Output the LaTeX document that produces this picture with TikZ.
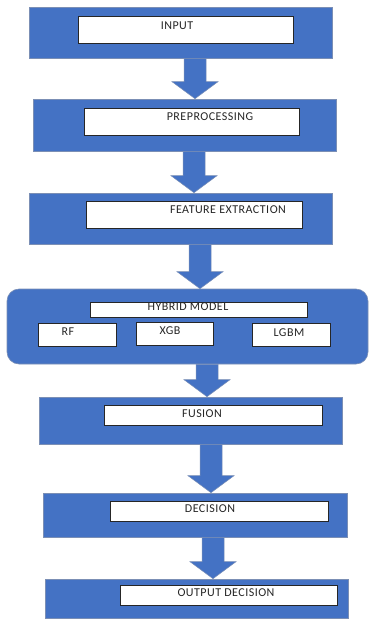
\documentclass[tikz,border=0pt]{standalone}
\usepackage{fontspec}
\setmainfont{Carlito}[LetterSpace=4]
\usetikzlibrary{calc}

\definecolor{boxblue}{HTML}{4472C4}
\definecolor{edgeblue}{HTML}{7B8FB5}
\definecolor{txtgray}{HTML}{262626}

% block arrow from the bottom of one stage to the top of the next
\newcommand{\bigarrow}[3]{%
  \filldraw[arrowshape] let \p1=(#1.south), \p2=(#2.north) in
    (#3-11,\y1) -- (#3+11,\y1) -- (#3+11,\y2+17) -- (#3+23,\y2+17)
    -- (#3,\y2) -- (#3-23,\y2+17) -- (#3-11,\y2+17) -- cycle;
}

\begin{document}
\begin{tikzpicture}[x=1pt,y=1pt,
    stage/.style={rectangle,fill=boxblue,draw=edgeblue,line width=0.6pt,inner sep=0pt},
    inner/.style={rectangle,fill=white,draw=black!85,line width=0.8pt,inner sep=0pt},
    lbl/.style={inner sep=0pt,text=txtgray,font=\fontsize{12}{12}\selectfont},
    arrowshape/.style={fill=boxblue,draw=edgeblue,line width=0.5pt}]
    \useasboundingbox (0,0) rectangle (369,-619);

    % stages
    \node[stage,minimum width=303,minimum height=51] (in) at (180.5,-32.5) {};
    \node[stage,minimum width=303,minimum height=52] (pre) at (184.5,-125) {};
    \node[stage,minimum width=303,minimum height=51] (feat) at (180.5,-218.5) {};
    \node[stage,rounded corners=12pt,minimum width=361,minimum height=75] (hyb) at (187.5,-326.5) {};
    \node[stage,minimum width=303,minimum height=47] (fus) at (190.5,-420.5) {};
    \node[stage,minimum width=304,minimum height=44] (dec) at (195,-515) {};
    \node[stage,minimum width=303,minimum height=39] (out) at (196.5,-598.5) {};

    % white boxes
    \node[inner,minimum width=215,minimum height=27] (inB) at (185.5,-29.5) {};
    \node[inner,minimum width=215,minimum height=27] (preB) at (191.5,-121.5) {};
    \node[inner,minimum width=216,minimum height=27] (featB) at (194,-214.5) {};
    \node[inner,minimum width=217,minimum height=15] (hybB) at (198.5,-309.5) {};
    \node[inner,minimum width=78,minimum height=23] (rfB) at (77,-334.5) {};
    \node[inner,minimum width=77,minimum height=23] (xgbB) at (174.5,-333.5) {};
    \node[inner,minimum width=78,minimum height=23] (lgbmB) at (291,-334.5) {};
    \node[inner,minimum width=218,minimum height=20] (fusB) at (213,-415) {};
    \node[inner,minimum width=218,minimum height=20] (decB) at (219,-511) {};
    \node[inner,minimum width=217,minimum height=20] (outB) at (228.5,-595) {};

    % labels
    \node[lbl] (inT) at (177,-26) {INPUT};
    \node[lbl] (preT) at (210,-117) {PREPROCESSING};
    \node[lbl] (featT) at (228,-210) {FEATURE EXTRACTION};
    \node[lbl] (hybT) at (188,-307) {HYBRID MODEL};
    \node[lbl] (rfT) at (68,-332) {RF};
    \node[lbl] (xgbT) at (170,-331) {XGB};
    \node[lbl] (lgbmT) at (289,-333) {LGBM};
    \node[lbl] (fusT) at (202,-414) {FUSION};
    \node[lbl] (decT) at (210,-509) {DECISION};
    \node[lbl] (outT) at (226,-593) {OUTPUT DECISION};

    % arrows
    \bigarrow{in}{pre}{195}
    \bigarrow{pre}{feat}{194}
    \bigarrow{feat}{hyb}{200}
    \bigarrow{hyb}{fus}{207}
    \bigarrow{fus}{dec}{211}
    \bigarrow{dec}{out}{213}
\end{tikzpicture}
\end{document}
